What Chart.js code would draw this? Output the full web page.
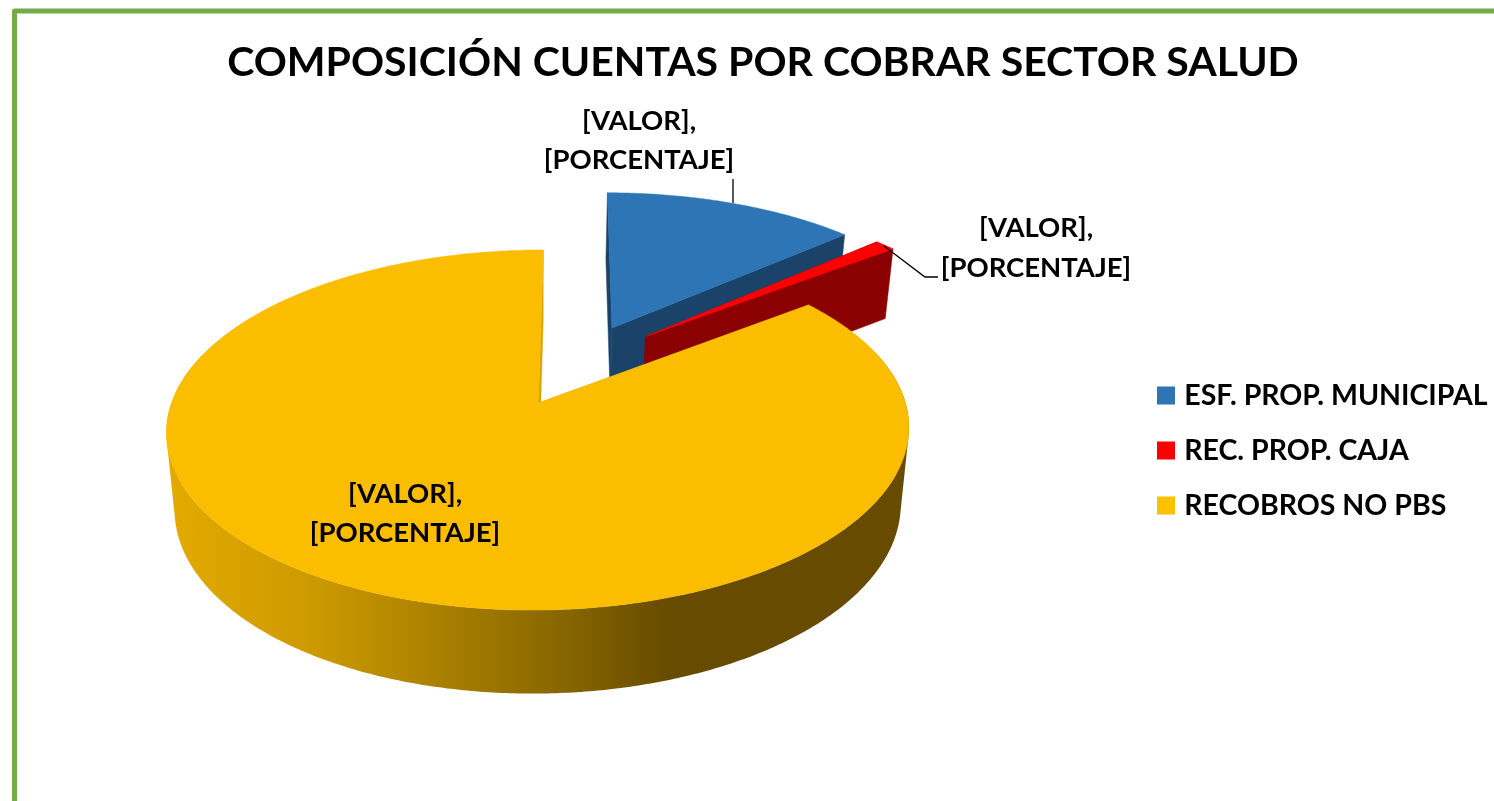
<!DOCTYPE html>
<html><head><meta charset="utf-8">
<style>html,body{margin:0;padding:0;background:#fff}canvas{display:block}</style>
<script src="https://cdn.jsdelivr.net/npm/chart.js@4"></script>
</head><body>
<canvas id="c" width="1494" height="801"></canvas>
<script>
const categories = ['ESF. PROP. MUNICIPAL', 'REC. PROP. CAJA', 'RECOBROS NO PBS'];
const seriesValues = [13.5, 1.1, 85.4];
const legendColors = ['#2E75B6', '#FF0000', '#FFC000'];
const topColors = ['#2E75B6', '#FF0000', '#FBBD00'];
const wallColors = ['#1B4369', '#8B0000', null];
const chartTitle = 'COMPOSICIÓN CUENTAS POR COBRAR SECTOR SALUD';
const labelLines = ['[VALOR],', '[PORCENTAJE]'];

const FONT = 'Lato, Carlito, sans-serif';
// Perspective parameters of the 3-D pie (screen pixels, radius = 1 in pie plane)
const P = {x0: 538.5, y0: 403, bx: 367, ay: 176, skew: 5.5, p: 0.15, sc: 0.978, h0: 76, hp: 0.09};
const sliceShift = [[0.207, 0.455], [0.303, 0.40], [0, 0]];
const labelPos = [[639, 121, 160], [1036, 228, 268], [405, 494, 533]];

function proj(u, v, bottom) {
  const d = 1 + P.p * v;
  let x = (P.bx * u + P.skew * v) / d, y = P.y0 - P.ay * v / d;
  if (bottom) { x *= P.sc; y += P.h0 / (1 + P.hp * v); }
  return [P.x0 + x, y];
}
function arcPts(th0, th1, s, bottom) {
  const n = Math.max(2, Math.ceil((th1 - th0) / 0.01)), out = [];
  for (let i = 0; i <= n; i++) {
    const t = th0 + (th1 - th0) * i / n;
    out.push(proj(s[0] + Math.sin(t), s[1] + Math.cos(t), bottom));
  }
  return out;
}
function addPoly(ctx, pts) {
  let area = 0;
  pts.forEach((p, i) => { const q = pts[(i + 1) % pts.length]; area += p[0] * q[1] - q[0] * p[1]; });
  const list = area < 0 ? pts.slice().reverse() : pts;
  list.forEach((p, i) => i ? ctx.lineTo(p[0], p[1]) : ctx.moveTo(p[0], p[1]));
  ctx.closePath();
}
function poly(ctx, pts, fill) {
  ctx.beginPath();
  addPoly(ctx, pts);
  ctx.fillStyle = fill; ctx.fill();
  ctx.strokeStyle = fill; ctx.lineWidth = 0.5; ctx.stroke();
}
const pie3d = {
  id: 'pie3d',
  afterLayout(chart) {
    const l = chart.legend;
    l.top += 50; l.bottom += 50;
    l.left = 1162 - l.options.labels.padding;
  },
  beforeDraw(chart) {
    const ctx = chart.ctx;
    ctx.save();
    ctx.fillStyle = '#fff'; ctx.fillRect(0, 0, 1494, 801);
    ctx.strokeStyle = '#70AD47'; ctx.lineWidth = 5; ctx.lineJoin = 'round';
    ctx.beginPath(); ctx.moveTo(14.5, 810); ctx.lineTo(14.5, 11); ctx.lineTo(1500, 11); ctx.stroke();
    ctx.restore();
  },
  beforeDatasetDraw(chart, args) {
    const ctx = chart.ctx, arcs = chart.getDatasetMeta(args.index).data;
    ctx.save();
    arcs.forEach((arc, i) => {
      const s = sliceShift[i];
      const t0 = arc.startAngle + Math.PI / 2, t1 = arc.endAngle + Math.PI / 2;
      const a = proj(s[0], s[1], false), ab = proj(s[0], s[1], true);
      const top = arcPts(t0, t1, s, false), bot = arcPts(t0, t1, s, true);
      let wall = wallColors[i], edge = wall;
      if (!wall) {
        wall = ctx.createLinearGradient(170, 0, 910, 0);
        wall.addColorStop(0, '#E3AA00');
        wall.addColorStop(0.2, '#CB9900');
        wall.addColorStop(0.5, '#8E6B00');
        wall.addColorStop(0.68, '#664B00');
        wall.addColorStop(1, '#664B00');
        edge = '#D9A200';
      }
      poly(ctx, [a, top[0], bot[0], ab], edge);
      poly(ctx, [a, top[top.length - 1], bot[bot.length - 1], ab], edge);
      ctx.beginPath();
      for (let k = 0; k < top.length - 1; k++) {
        const t = t0 + (t1 - t0) * k / (top.length - 1);
        if (Math.cos(t) < 0.3) addPoly(ctx, [top[k], top[k + 1], bot[k + 1], bot[k]]);
      }
      ctx.fillStyle = wall; ctx.fill();
      poly(ctx, [a].concat(top), topColors[i]);
    });
    ctx.restore();
    return false;
  },
  afterDraw(chart) {
    const ctx = chart.ctx;
    ctx.save();
    ctx.strokeStyle = '#000'; ctx.lineWidth = 1.3;
    ctx.beginPath(); ctx.moveTo(733, 179); ctx.lineTo(733, 203); ctx.stroke();
    ctx.beginPath(); ctx.moveTo(884, 246); ctx.lineTo(925, 277); ctx.lineTo(938, 277); ctx.stroke();
    ctx.fillStyle = '#000'; ctx.font = 'bold 27.5px ' + FONT;
    ctx.textAlign = 'center'; ctx.textBaseline = 'middle';
    labelPos.forEach(p => {
      ctx.fillText(labelLines[0], p[0], p[1]);
      ctx.fillText(labelLines[1], p[0], p[2]);
    });
    ctx.restore();
  }
};
new Chart(document.getElementById('c'), {
  type: 'pie',
  data: {labels: categories, datasets: [{data: seriesValues, backgroundColor: legendColors, borderWidth: 0}]},
  options: {
    responsive: false, animation: false, devicePixelRatio: 1,
    layout: {padding: {left: 32, right: 0, top: 0, bottom: 0}},
    plugins: {
      tooltip: {enabled: false},
      title: {display: true, text: chartTitle, color: '#000', font: {family: FONT, size: 41, weight: 'bold'}, padding: {top: 38, bottom: 10}},
      legend: {position: 'right', labels: {color: '#000', usePointStyle: true, pointStyle: 'rect', boxWidth: 8, boxHeight: 18, font: {family: FONT, size: 28.5, weight: 'bold'}, padding: 26.5}}
    }
  },
  plugins: [pie3d]
});
</script>
</body></html>
